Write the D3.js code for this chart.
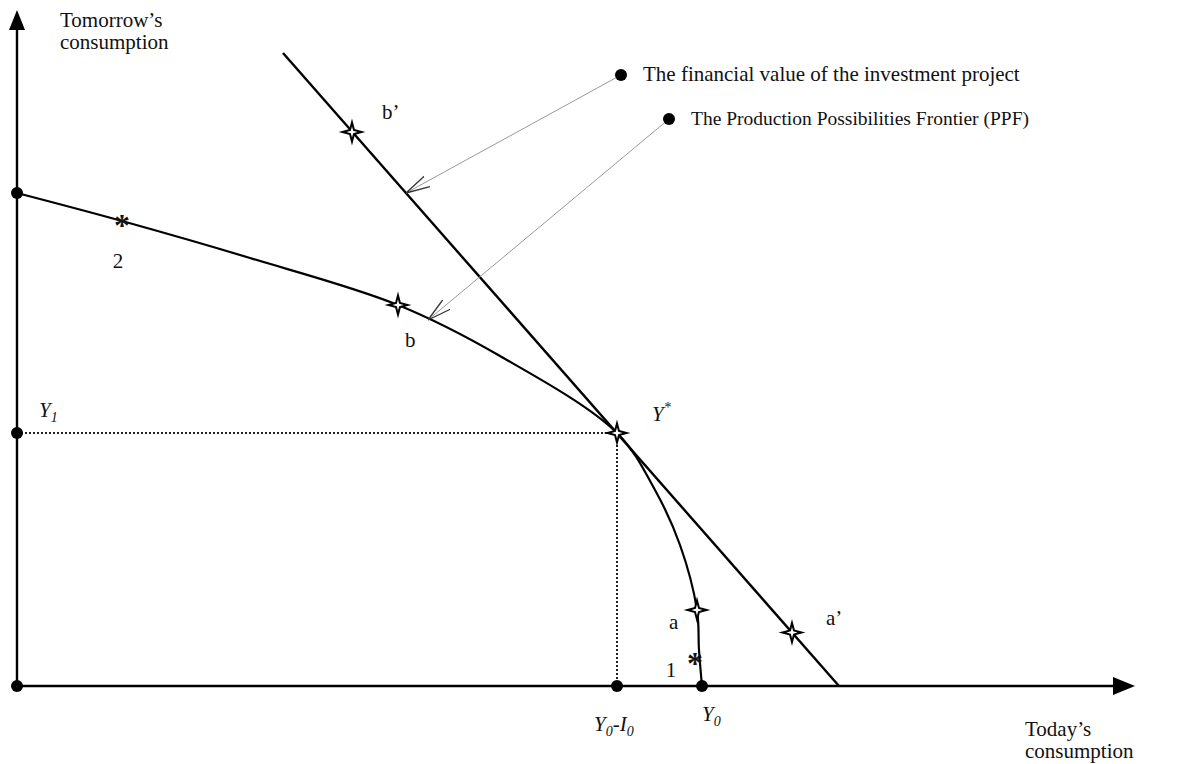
<!DOCTYPE html>
<html>
<head>
<meta charset="utf-8">
<script src="https://cdn.jsdelivr.net/npm/d3@7"></script>
<style>
  body { margin: 0; background: #fff; }
  text { font-family: "Liberation Serif", "Times New Roman", serif; fill: #111; }
</style>
</head>
<body>
<div id="chart"></div>
<script>
var svgWidth = 1177;
var svgHeight = 764;
var fontSize = 21;

// axis extents (arbitrary units)
var xDomain = [0, 111.8];
var yDomain = [0, 67.6];

// production possibilities frontier
var ppfX = [0, 10.5, 23.3, 38.1, 48.3, 60.0, 63.8, 66.3, 68.0, 68.2, 68.5];
var ppfY = [49.3, 46.5, 42.8, 38.1, 33.0, 25.3, 19.6, 14.1, 7.6, 3.6, 0];

// financial value line
var lineX = [26.6, 82.2];
var lineY = [63.3, 0];

// star points
var starNames = ["b'", "b", "Y*", "a", "a'"];
var starX = [33.5, 38.1, 60.0, 68.0, 77.5];
var starY = [55.4, 38.1, 25.3, 7.6, 5.35];

// asterisk points
var astNames = ["2", "1"];
var astX = [10.5, 67.8];
var astY = [46.5, 2.7];

// dots on the axes
var yAxisDots = [49.3, 25.3, 0];
var xAxisDots = [60.0, 68.5];

// annotations
var annoText = ["The financial value of the investment project", "The Production Possibilities Frontier (PPF)"];
var annoSize = [21, 19.5];
var annoDotX = [60.4, 65.2];
var annoDotY = [61.1, 56.7];
var annoTargetX = [38.9, 41.1];
var annoTargetY = [49.3, 36.6];

var x = d3.scaleLinear().domain(xDomain).range([17, 1135]);
var y = d3.scaleLinear().domain(yDomain).range([686, 10]);

var svg = d3.select("#chart").append("svg")
    .attr("width", svgWidth)
    .attr("height", svgHeight);

svg.append("rect").attr("width", svgWidth).attr("height", svgHeight).attr("fill", "#fff");

var defs = svg.append("defs");
defs.append("marker")
    .attr("id", "open-arrow")
    .attr("markerUnits", "userSpaceOnUse")
    .attr("viewBox", "0 -7 24 14")
    .attr("markerWidth", 24)
    .attr("markerHeight", 14)
    .attr("refX", 24)
    .attr("refY", 0)
    .attr("orient", "auto")
  .append("path")
    .attr("d", "M0,-6L24,0L0,6")
    .attr("fill", "none")
    .attr("stroke", "#333")
    .attr("stroke-width", 1.3);

// dotted guides to Y*
var yStar = ppfY[5], xStar = ppfX[5];
svg.append("line")
    .attr("x1", x(0)).attr("y1", y(yStar))
    .attr("x2", x(xStar)).attr("y2", y(yStar))
    .attr("stroke", "#222").attr("stroke-width", 2)
    .attr("stroke-dasharray", "2,2");
svg.append("line")
    .attr("x1", x(xStar)).attr("y1", y(yStar))
    .attr("x2", x(xStar)).attr("y2", y(0))
    .attr("stroke", "#222").attr("stroke-width", 2)
    .attr("stroke-dasharray", "2,2");

// axes
svg.append("line")
    .attr("x1", x(0)).attr("y1", y(0))
    .attr("x2", x(0)).attr("y2", y(yDomain[1]) + 18)
    .attr("stroke", "#000").attr("stroke-width", 2.4);
svg.append("line")
    .attr("x1", x(0)).attr("y1", y(0))
    .attr("x2", x(xDomain[1]) - 20).attr("y2", y(0))
    .attr("stroke", "#000").attr("stroke-width", 2.4);
svg.append("path")
    .attr("d", `M${x(0)},${y(yDomain[1])}L${x(0) + 8},${y(yDomain[1]) + 20}L${x(0) - 8},${y(yDomain[1]) + 20}Z`)
    .attr("fill", "#000");
svg.append("path")
    .attr("d", `M${x(xDomain[1])},${y(0)}L${x(xDomain[1]) - 22},${y(0) - 9}L${x(xDomain[1]) - 22},${y(0) + 9}Z`)
    .attr("fill", "#000");

// PPF curve
var ppf = ppfX.map(function(d, i) { return [d, ppfY[i]]; });
svg.append("path")
    .datum(ppf)
    .attr("d", d3.line()
        .x(function(d) { return x(d[0]); })
        .y(function(d) { return y(d[1]); })
        .curve(d3.curveCatmullRom))
    .attr("fill", "none")
    .attr("stroke", "#000")
    .attr("stroke-width", 2.2);

// financial value line
svg.append("line")
    .attr("x1", x(lineX[0])).attr("y1", y(lineY[0]))
    .attr("x2", x(lineX[1])).attr("y2", y(lineY[1]))
    .attr("stroke", "#000").attr("stroke-width", 2.4);

// annotation pointers
annoText.forEach(function(t, i) {
  svg.append("line")
      .attr("x1", x(annoDotX[i])).attr("y1", y(annoDotY[i]))
      .attr("x2", x(annoTargetX[i])).attr("y2", y(annoTargetY[i]))
      .attr("stroke", "#999").attr("stroke-width", 1)
      .attr("marker-end", "url(#open-arrow)");
  svg.append("circle")
      .attr("cx", x(annoDotX[i])).attr("cy", y(annoDotY[i]))
      .attr("r", 6).attr("fill", "#000");
  svg.append("text")
      .attr("x", x(annoDotX[i]) + 22).attr("y", y(annoDotY[i]) + 6)
      .attr("font-size", annoSize[i])
      .text(t);
});

// axis dots
svg.selectAll(".ydot").data(yAxisDots).enter().append("circle")
    .attr("cx", x(0)).attr("cy", function(d) { return y(d); })
    .attr("r", 6).attr("fill", "#000");
svg.selectAll(".xdot").data(xAxisDots).enter().append("circle")
    .attr("cx", function(d) { return x(d); }).attr("cy", y(0))
    .attr("r", 6).attr("fill", "#000");

// stars
var starPts = d3.range(8).map(function(k) { return [k * Math.PI / 4, k % 2 ? 2.8 : 9.5]; });
var starPath = d3.lineRadial().curve(d3.curveLinearClosed)(starPts);
svg.selectAll(".star").data(starX).enter().append("path")
    .attr("d", starPath)
    .attr("transform", function(d, i) { return `translate(${x(d)},${y(starY[i])})`; })
    .attr("fill", "#fff")
    .attr("stroke", "#000")
    .attr("stroke-width", 2);

// asterisks
svg.selectAll(".ast").data(astX).enter().append("text")
    .attr("x", function(d) { return x(d); })
    .attr("y", function(d, i) { return y(astY[i]) + 15; })
    .attr("text-anchor", "middle")
    .attr("font-size", 32)
    .attr("font-weight", "bold")
    .text("*");

// point labels
var labelOffsets = {
  "b'": [30, -13], "b": [7, 42], "a": [-28, 19], "a'": [34, -8]
};
starNames.forEach(function(n, i) {
  if (n === "Y*") return;
  svg.append("text")
      .attr("x", x(starX[i]) + labelOffsets[n][0])
      .attr("y", y(starY[i]) + labelOffsets[n][1])
      .attr("font-size", fontSize)
      .text(n.replace("'", "\u2019"));
});
var ystar = svg.append("text")
    .attr("x", x(starX[2]) + 35).attr("y", y(starY[2]) - 12)
    .attr("font-size", fontSize).attr("font-style", "italic");
ystar.append("tspan").text("Y");
ystar.append("tspan").attr("font-size", 14).attr("dy", -9).text("*");

var astOffsets = [[-4, 47], [-24, 18]];
astNames.forEach(function(n, i) {
  svg.append("text")
      .attr("x", x(astX[i]) + astOffsets[i][0])
      .attr("y", y(astY[i]) + astOffsets[i][1])
      .attr("font-size", fontSize)
      .attr("text-anchor", "middle")
      .text(n);
});

// axis value labels
var y1 = svg.append("text")
    .attr("x", x(0) + 22).attr("y", y(yAxisDots[1]) - 16)
    .attr("font-size", fontSize).attr("font-style", "italic");
y1.append("tspan").text("Y");
y1.append("tspan").attr("font-size", 14).attr("dy", 5).text("1");

var yi = svg.append("text")
    .attr("x", x(xAxisDots[0]) - 23).attr("y", y(0) + 45)
    .attr("font-size", fontSize).attr("font-style", "italic");
yi.append("tspan").text("Y");
yi.append("tspan").attr("font-size", 14).attr("dy", 5).text("0");
yi.append("tspan").attr("dy", -5).text("-I");
yi.append("tspan").attr("font-size", 14).attr("dy", 5).text("0");

var y0 = svg.append("text")
    .attr("x", x(xAxisDots[1])).attr("y", y(0) + 35)
    .attr("font-size", fontSize).attr("font-style", "italic");
y0.append("tspan").text("Y");
y0.append("tspan").attr("font-size", 14).attr("dy", 5).text("0");

// axis titles
svg.append("text").attr("x", 60).attr("y", 27).attr("font-size", fontSize).text("Tomorrow\u2019s");
svg.append("text").attr("x", 60).attr("y", 49).attr("font-size", fontSize).text("consumption");
svg.append("text").attr("x", 1025).attr("y", 736).attr("font-size", fontSize).text("Today\u2019s");
svg.append("text").attr("x", 1025).attr("y", 758).attr("font-size", fontSize).text("consumption");
</script>
</body>
</html>
